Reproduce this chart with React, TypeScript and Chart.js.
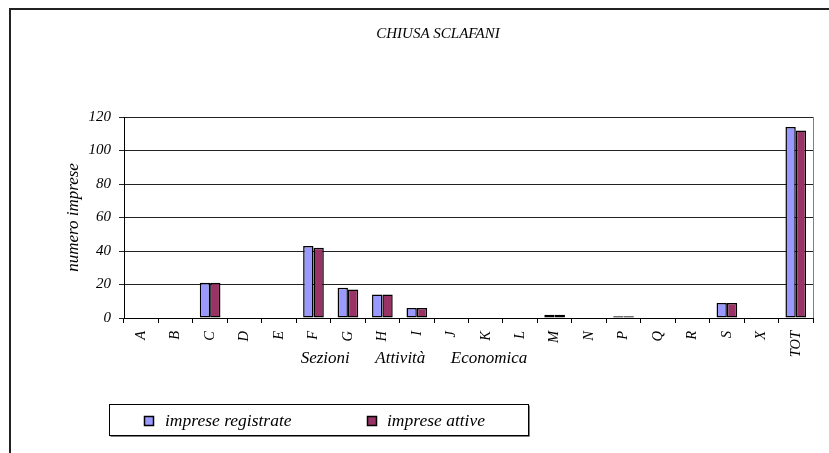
import React, { useEffect, useRef } from 'react';
import { Chart, registerables } from 'chart.js';

Chart.register(...registerables);

const FONT = "'Liberation Serif', 'Times New Roman', serif";

const chartTitle = 'CHIUSA SCLAFANI';
const yAxisTitle = 'numero imprese';
const xAxisTitle = 'Sezioni      Attività      Economica';
const categories = ['A', 'B', 'C', 'D', 'E', 'F', 'G', 'H', 'I', 'J', 'K', 'L', 'M', 'N', 'P', 'Q', 'R', 'S', 'X', 'TOT'];
const seriesLabels = ['imprese registrate', 'imprese attive'];
const registrate = [0, 0, 21, 0, 0, 43, 18, 14, 6, 0, 0, 0, 2, 0, 1, 0, 0, 9, 0, 114];
const attive = [0, 0, 21, 0, 0, 42, 17, 14, 6, 0, 0, 0, 2, 0, 1, 0, 0, 9, 0, 112];
const seriesColors = ['#9999FF', '#993366'];
const yTicks = { min: 0, max: 120, step: 20 };

const decor = {
  id: 'decor',
  beforeDraw(chart: any) {
    const ctx = chart.ctx;
    ctx.save();
    ctx.fillStyle = '#ffffff';
    ctx.fillRect(0, 0, chart.width, chart.height);
    ctx.strokeStyle = '#222';
    ctx.lineWidth = 2;
    ctx.beginPath();
    ctx.moveTo(10, chart.height + 2);
    ctx.lineTo(10, 9);
    ctx.lineTo(chart.width + 2, 9);
    ctx.stroke();
    ctx.restore();
  },
  afterDraw(chart: any) {
    const ctx = chart.ctx;
    const a = chart.chartArea;
    ctx.save();
    // plot area right border
    ctx.strokeStyle = '#808080';
    ctx.lineWidth = 1;
    ctx.beginPath();
    ctx.moveTo(Math.round(a.right) + 0.5, a.top);
    ctx.lineTo(Math.round(a.right) + 0.5, a.bottom);
    ctx.stroke();
    // x axis title
    ctx.fillStyle = '#000';
    ctx.font = `italic 17px ${FONT}`;
    ctx.textAlign = 'center';
    ctx.textBaseline = 'middle';
    ctx.fillText(xAxisTitle, 414, 359);
    // legend box
    const bx = 109.5, by = 404.5, bw = 419, bh = 31;
    ctx.fillStyle = '#808080';
    ctx.fillRect(bx + 1, by + bh, bw, 1.5);
    ctx.fillRect(bx + bw, by + 1, 1.5, bh);
    ctx.fillStyle = '#fff';
    ctx.fillRect(bx, by, bw, bh);
    ctx.strokeStyle = '#000';
    ctx.lineWidth = 1;
    ctx.strokeRect(bx, by, bw, bh);
    const items = [
      { mx: 144.5, tx: 165 },
      { mx: 367.5, tx: 387 },
    ];
    chart.data.datasets.forEach((ds: any, i: number) => {
      const it = items[i];
      ctx.fillStyle = ds.backgroundColor;
      ctx.fillRect(it.mx, 416.5, 9, 9);
      ctx.strokeStyle = '#000';
      ctx.lineWidth = 1.5;
      ctx.strokeRect(it.mx, 416.5, 9, 9);
      ctx.fillStyle = '#000';
      ctx.font = `italic 17.5px ${FONT}`;
      ctx.textAlign = 'left';
      ctx.textBaseline = 'middle';
      ctx.fillText(ds.label, it.tx, 421);
    });
    ctx.restore();
  },
};

export default function App() {
  const ref = useRef<HTMLCanvasElement | null>(null);
  useEffect(() => {
    if (!ref.current) return;
    const chart = new Chart(ref.current, {
      type: 'bar',
      data: {
        labels: categories,
        datasets: [
          {
            label: seriesLabels[0],
            data: registrate,
            backgroundColor: seriesColors[0],
            borderColor: '#000',
            borderWidth: 1.5,
            borderSkipped: false,
          },
          {
            label: seriesLabels[1],
            data: attive,
            backgroundColor: seriesColors[1],
            borderColor: '#000',
            borderWidth: 1.5,
            borderSkipped: false,
          },
        ],
      },
      options: {
        animation: false,
        responsive: false,
        maintainAspectRatio: false,
        devicePixelRatio: 1,
        layout: { padding: { left: 63, right: 16, top: 25, bottom: 0 } },
        datasets: { bar: { categoryPercentage: 0.6, barPercentage: 1 } },
        plugins: {
          legend: { display: false },
          tooltip: { enabled: false },
          title: {
            display: true,
            text: chartTitle,
            color: '#000',
            font: { family: FONT, size: 15, style: 'italic', weight: 'normal' },
            padding: { top: 0, bottom: 74 },
          },
        },
        scales: {
          x: {
            afterFit: (s: any) => { s.height = 135; },
            grid: {
              offset: true,
              drawOnChartArea: false,
              drawTicks: true,
              tickLength: 5,
              color: '#000',
            },
            border: { color: '#000', width: 1 },
            ticks: {
              minRotation: 90,
              maxRotation: 90,
              autoSkip: false,
              padding: 8,
              color: '#000',
              font: { family: FONT, size: 14.5, style: 'italic' },
            },
          },
          y: {
            min: yTicks.min,
            max: yTicks.max,
            afterFit: (s: any) => { s.width = 61; },
            title: {
              display: true,
              text: yAxisTitle,
              color: '#000',
              padding: { top: 0, bottom: 0 },
              font: { family: FONT, size: 17, style: 'italic' },
            },
            grid: { color: '#222', tickLength: 5, drawTicks: true },
            border: { color: '#000', width: 1 },
            ticks: {
              stepSize: yTicks.step,
              padding: 8,
              color: '#000',
              font: { family: FONT, size: 15, style: 'italic' },
            },
          },
        },
      },
      plugins: [decor],
    });
    return () => chart.destroy();
  }, []);
  return (
    <div style={{ position: 'fixed', left: 0, top: 0, width: 829, height: 453 }}>
      <canvas ref={ref} width={829} height={453} style={{ display: 'block', width: 829, height: 453 }} />
    </div>
  );
}
